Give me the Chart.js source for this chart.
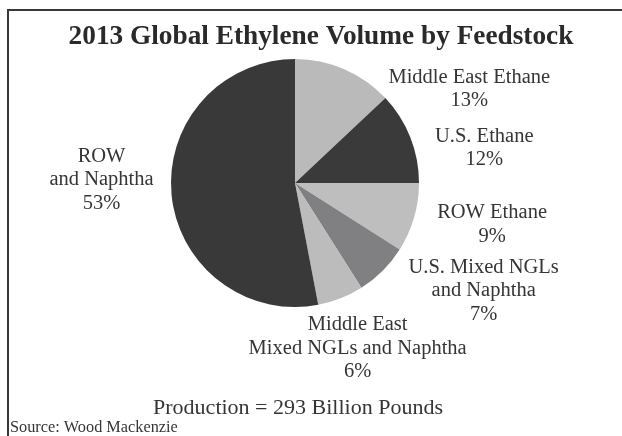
<!DOCTYPE html>
<html>
<head>
<meta charset="utf-8">
<script src="https://cdn.jsdelivr.net/npm/chart.js@4/dist/chart.umd.min.js"></script>
<style>
  html, body { margin: 0; padding: 0; background: #ffffff; }
  #wrap { position: relative; width: 622px; height: 436px; }
</style>
</head>
<body>
<div id="wrap"><canvas id="c" width="622" height="436"></canvas></div>
<script>
// ---- data ----
const categories = [
  "Middle East Ethane",
  "U.S. Ethane",
  "ROW Ethane",
  "U.S. Mixed NGLs and Naphtha",
  "Middle East Mixed NGLs and Naphtha",
  "ROW and Naphtha"
];
const shares = [13, 12, 9, 7, 6, 53];
const labelLines = [
  ["Middle East Ethane", "13%"],
  ["U.S. Ethane", "12%"],
  ["ROW Ethane", "9%"],
  ["U.S. Mixed NGLs", "and Naphtha", "7%"],
  ["Middle East", "Mixed NGLs and Naphtha", "6%"],
  ["ROW", "and Naphtha", "53%"]
];
const titleText = "2013 Global Ethylene Volume by Feedstock";
const footText = "Production = 293 Billion Pounds";
const sourceText = "Source: Wood Mackenzie";

// ---- styles ----
const sliceColors = ["#bababa", "#3a3a3a", "#bebebe", "#808083", "#bcbcbc", "#393939"];
// label block offsets from the outer edge point at each slice's mid angle
const labelOffsets = [[125, 20], [74, 11], [78, 7], [101, 20], [17, 50], [-70, -15]];
const SERIF = "'Liberation Serif', 'Times New Roman', serif";

const decor = {
  id: "decor",
  beforeDraw(chart) {
    const ctx = chart.ctx;
    ctx.save();
    ctx.fillStyle = "#ffffff";
    ctx.fillRect(0, 0, chart.width, chart.height);
    ctx.strokeStyle = "#383838";
    ctx.lineWidth = 2;
    ctx.beginPath();
    ctx.moveTo(chart.width, 10);
    ctx.lineTo(8, 10);
    ctx.lineTo(8, chart.height);
    ctx.stroke();
    ctx.restore();
  },
  afterDatasetsDraw(chart) {
    const ctx = chart.ctx;
    const meta = chart.getDatasetMeta(0);
    ctx.save();
    ctx.textAlign = "center";
    ctx.textBaseline = "middle";
    ctx.fillStyle = "#353535";
    ctx.font = "20.5px " + SERIF;
    const lh = 23.5;
    meta.data.forEach((arc, i) => {
      const p = arc.getProps(["x", "y", "startAngle", "endAngle", "outerRadius"], true);
      const mid = (p.startAngle + p.endAngle) / 2;
      const ex = p.x + Math.cos(mid) * p.outerRadius;
      const ey = p.y + Math.sin(mid) * p.outerRadius;
      const cx = ex + labelOffsets[i][0];
      const cy = ey + labelOffsets[i][1];
      const lines = labelLines[i];
      const top = cy - (lines.length - 1) * lh / 2;
      lines.forEach((t, k) => ctx.fillText(t, cx, top + k * lh));
    });
    // title
    ctx.fillStyle = "#2a2a2a";
    ctx.font = "bold 27.3px " + SERIF;
    ctx.fillText(titleText, 321, 37);
    // production
    ctx.fillStyle = "#353535";
    ctx.font = "22px " + SERIF;
    ctx.fillText(footText, 298, 408);
    // source
    ctx.textAlign = "left";
    ctx.font = "16.3px " + SERIF;
    ctx.fillText(sourceText, 10, 428);
    ctx.restore();
  }
};

new Chart(document.getElementById("c"), {
  type: "pie",
  data: {
    labels: categories,
    datasets: [{
      data: shares,
      backgroundColor: sliceColors,
      borderWidth: 0
    }]
  },
  options: {
    responsive: false,
    devicePixelRatio: 1,
    animation: false,
    layout: { padding: { top: 59, bottom: 129, left: 171, right: 203 } },
    plugins: {
      legend: { display: false },
      tooltip: { enabled: false },
      title: { display: false }
    }
  },
  plugins: [decor]
});
</script>
</body>
</html>
